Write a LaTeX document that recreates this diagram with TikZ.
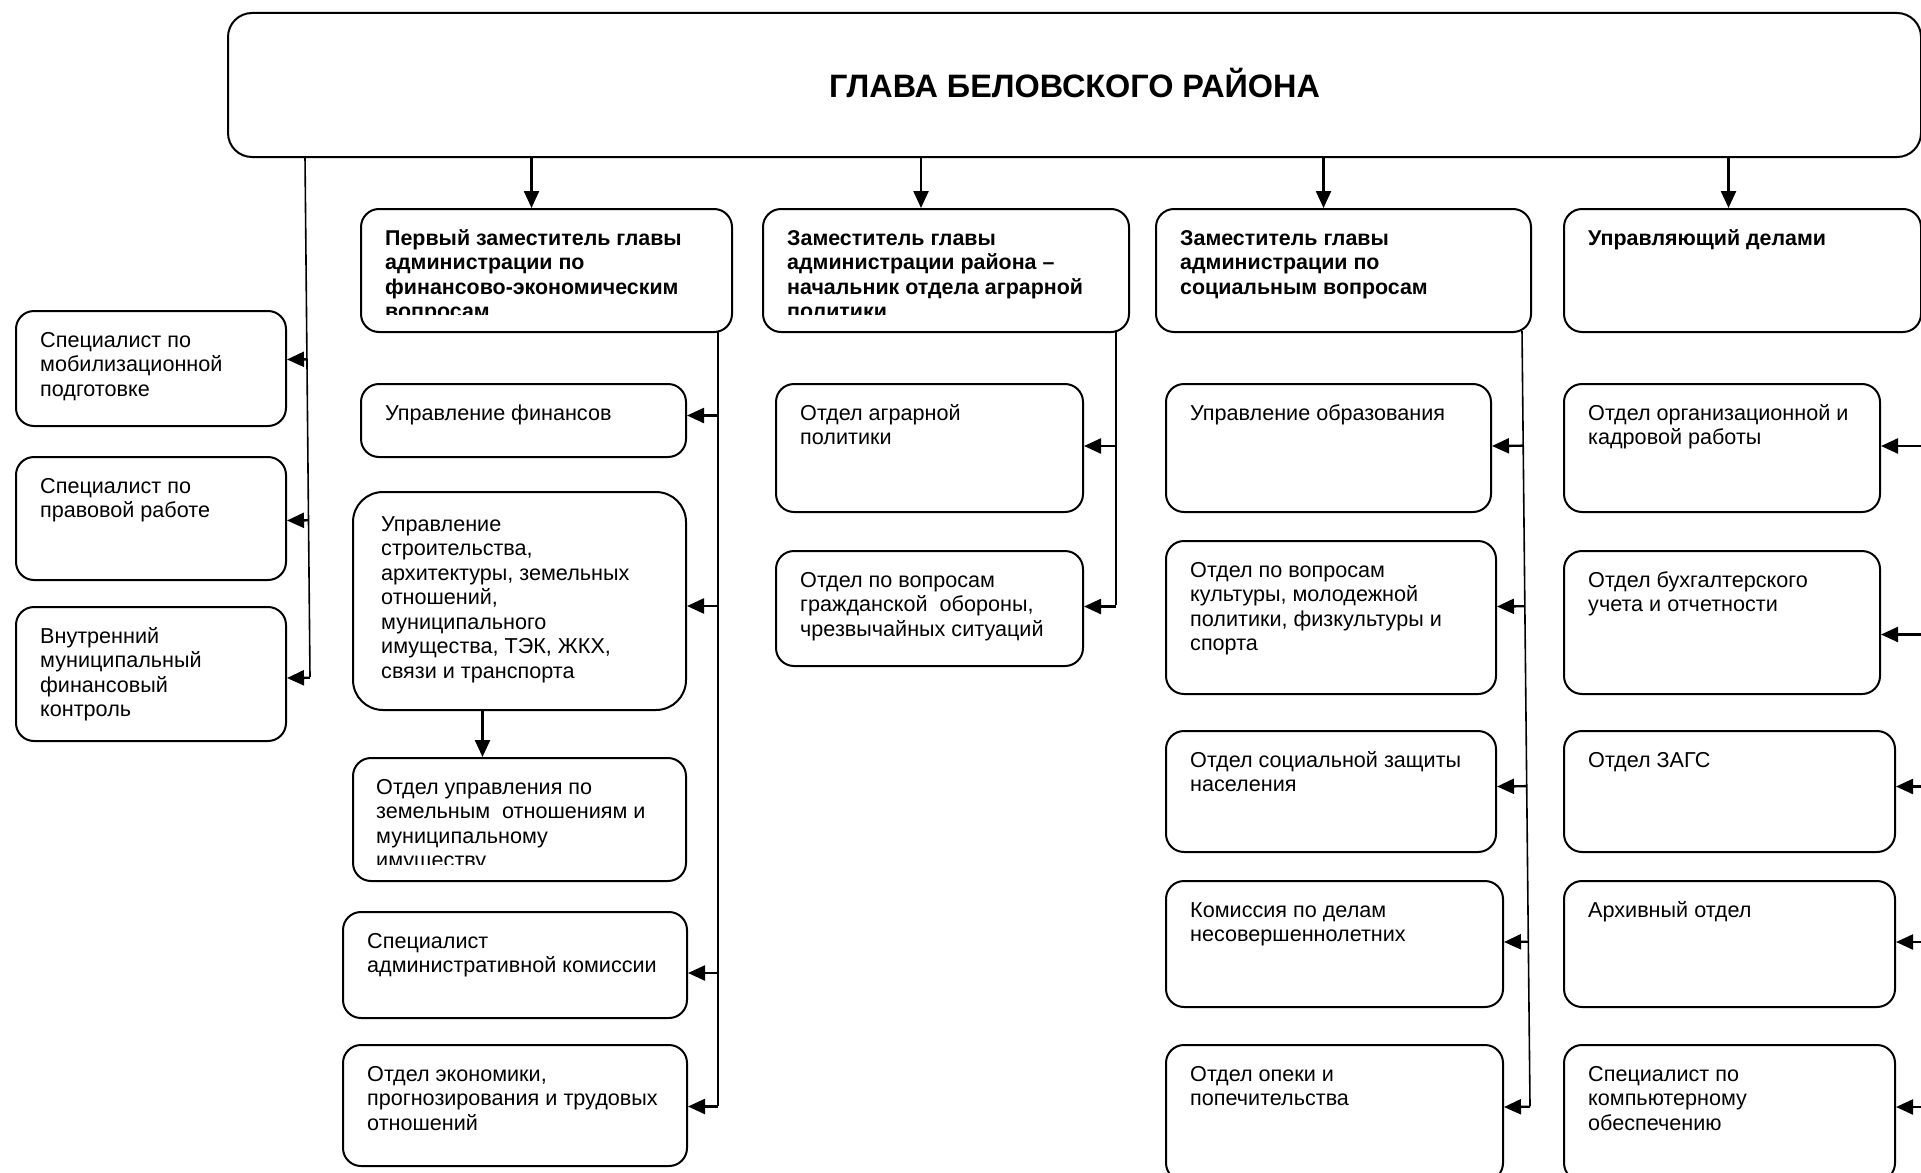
\documentclass[tikz,border=0pt]{standalone}
\usepackage{fontspec}
\setmainfont{Liberation Sans}
\usetikzlibrary{arrows.meta,calc}

\tikzset{
  box/.style={draw, line width=2pt, rounded corners=18pt, anchor=north west, inner sep=0pt},
  txt/.style={anchor=north west, align=left, inner sep=0pt, font=\fontsize{21.6}{24.5}\selectfont},
  head/.style={txt, font=\fontsize{21.4}{24.5}\selectfont\bfseries},
  spine/.style={line width=1.6pt},
  feed/.style={->, line width=2.4pt},
}

% box with its text in the upper left corner
\newcommand\dept[6][txt]{%
  \node[box, minimum width=#4pt, minimum height=#5pt] (#2) at (#3) {};
  \node[#1] (#2-t) at ([shift={(25,20)}]#2.north west) {\strut#6};
}

\begin{document}
\begin{tikzpicture}[x=1pt, y=-1pt, >={Triangle[length=17pt,width=15pt]}, line join=round]

    \useasboundingbox (0,0) rectangle (1921,1172);
    \clip (0,0) rectangle (1921,1172);

    \node[box, rounded corners=24pt, minimum width=1693pt, minimum height=144pt,
          font=\fontsize{32.4}{38}\selectfont\bfseries] (glava) at (227,12) {\raisebox{4pt}{ГЛАВА БЕЛОВСКОГО РАЙОНА}};

    % deputies
    \node[box, minimum width=371pt, minimum height=123pt] (zam1) at (360,208) {};
    \node[box, minimum width=366pt, minimum height=123pt] (zam2) at (762,208) {};
    \dept[head]{zam3}{1155,208}{375}{123}{Заместитель главы\\администрации по\\социальным вопросам}
    \dept[head]{upr}{1563,208}{357}{123}{Управляющий делами}
    \begin{scope}
        \clip (zam1.north west) rectangle ([yshift=19pt]zam1.south east);
        \node[head] (zam1-t) at ([shift={(25,20)}]zam1.north west)
            {\strut Первый заместитель главы\\администрации по\\финансово-экономическим\\вопросам};
    \end{scope}
    \begin{scope}
        \clip (zam2.north west) rectangle ([yshift=19pt]zam2.south east);
        \node[head] (zam2-t) at ([shift={(25,20)}]zam2.north west)
            {\strut Заместитель главы\\администрации района –\\начальник отдела аграрной\\политики};
    \end{scope}

    % left column
    \dept{mob}{15,310}{270}{115}{Специалист по\\мобилизационной\\подготовке}
    \dept{prav}{15,456}{270}{123}{Специалист по\\правовой работе}
    \dept{kontr}{15,606}{270}{134}{Внутренний\\муниципальный\\финансовый\\контроль}

    % first deputy
    \dept{fin}{360,383}{325}{73}{Управление финансов}
    \node[box, rounded corners=30pt, minimum width=333pt, minimum height=218pt] (stroy) at (352,491) {};
    \node[txt] (stroy-t) at ([shift={(29,23)}]stroy.north west)
        {\strut Управление\\строительства,\\архитектуры, земельных\\отношений,\\муниципального\\имущества, ТЭК, ЖКХ,\\связи и транспорта};
    \node[box, minimum width=333pt, minimum height=123pt] (zem) at (352,757) {};
    \begin{scope}
        \clip (zem.north west) rectangle ([yshift=18pt]zem.south east);
        \node[txt] (zem-t) at ([shift={(24,20)}]zem.north west)
            {\strut Отдел управления по\\земельным\ \ отношениям и\\муниципальному\\имуществу};
    \end{scope}
    \dept{adm}{342,911}{344}{106}{Специалист\\административной комиссии}
    \dept{econ}{342,1044}{344}{121}{Отдел экономики,\\прогнозирования и трудовых\\отношений}

    % agrarian deputy
    \dept{agr}{775,383}{307}{128}{Отдел аграрной\\политики}
    \dept{go}{775,550}{307}{115}{Отдел по вопросам\\гражданской\ \ обороны,\\чрезвычайных ситуаций}

    % social deputy
    \dept{obr}{1165,383}{325}{128}{Управление образования}
    \dept{kult}{1165,540}{330}{153}{Отдел по вопросам\\культуры, молодежной\\политики, физкультуры и\\спорта}
    \dept{szn}{1165,730}{330}{121}{Отдел социальной защиты\\населения}
    \dept{kdn}{1165,880}{337}{126}{Комиссия по делам\\несовершеннолетних}
    \dept{opeka}{1165,1044}{337}{136}{Отдел опеки и\\попечительства}

    % managing director
    \dept{kadr}{1563,383}{316}{128}{Отдел организационной и\\кадровой работы}
    \dept{buh}{1563,550}{316}{143}{Отдел бухгалтерского\\учета и отчетности}
    \dept{zags}{1563,730}{331}{121}{Отдел ЗАГС}
    \dept{arh}{1563,880}{331}{126}{Архивный отдел}
    \dept{it}{1563,1044}{331}{136}{Специалист по\\компьютерному\\обеспечению}

    % spines
    \coordinate (sp0t) at (305,156);   \coordinate (sp0b) at (310,677);
    \coordinate (sp1t) at (718,331);   \coordinate (sp1b) at (718,1106);
    \coordinate (sp2t) at (1116,331);  \coordinate (sp2b) at (1116,605);
    \coordinate (sp3t) at (1522,331);  \coordinate (sp3b) at (1530,1106);
    \coordinate (sp4t) at (1936,331);  \coordinate (sp4b) at (1936,1106);
    \foreach \s in {0,...,4}
        \draw[spine] (sp\s t) -- (sp\s b);

    \path[feed] ([xshift=-15pt]zam1.north |- glava.south) edge ([xshift=-15pt]zam1.north)
                ([xshift=-25pt]zam2.north |- glava.south) edge ([xshift=-25pt]zam2.north)
                ([xshift=-20pt]zam3.north |- glava.south) edge ([xshift=-20pt]zam3.north)
                ([xshift=-14pt]upr.north |- glava.south)  edge ([xshift=-14pt]upr.north)
                ([xshift=-37pt]stroy.south)               edge ([xshift=-37pt]stroy.south |- zem.north);

    \foreach \b/\d in {mob/-9, prav/2, kontr/4}
        \draw[feed] ($(sp0t)!([yshift=-\d pt]\b.east)!(sp0b)$) -- ([yshift=-\d pt]\b.east);
    \foreach \b/\d in {fin/-5, stroy/5, adm/8, econ/1}
        \draw[feed] ($(sp1t)!([yshift=-\d pt]\b.east)!(sp1b)$) -- ([yshift=-\d pt]\b.east);
    \foreach \b/\d in {agr/-2, go/-2}
        \draw[feed] ($(sp2t)!([yshift=-\d pt]\b.east)!(sp2b)$) -- ([yshift=-\d pt]\b.east);
    \foreach \b/\d in {obr/-2, kult/-11, szn/-5, kdn/-2, opeka/-6}
        \draw[feed] ($(sp3t)!([yshift=-\d pt]\b.east)!(sp3b)$) -- ([yshift=-\d pt]\b.east);
    \foreach \b/\d in {kadr/-2, buh/12, zags/-5, arh/-2, it/-6}
        \draw[feed] ($(sp4t)!([yshift=-\d pt]\b.east)!(sp4b)$) -- ([yshift=-\d pt]\b.east);

\end{tikzpicture}
\end{document}
